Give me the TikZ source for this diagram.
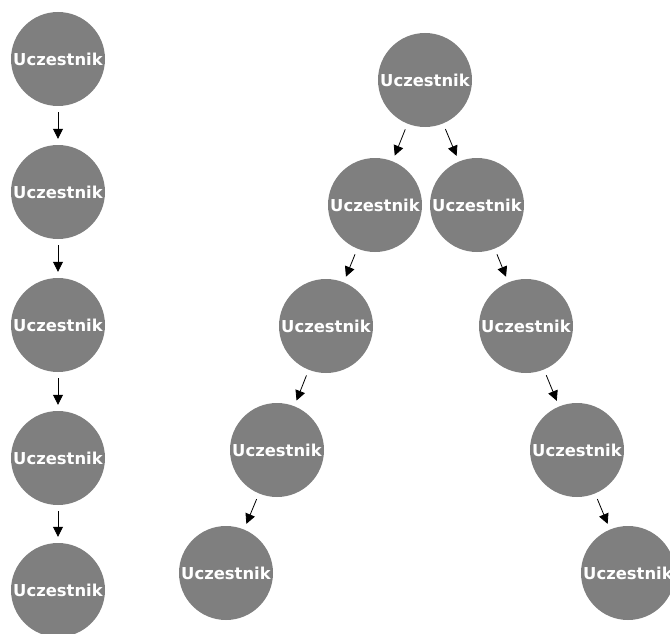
\documentclass[tikz,border=0pt]{standalone}
\usepackage{fontspec}
\setsansfont{DejaVu Sans}
\usetikzlibrary{arrows.meta}
\tikzset{
  member/.style={circle, fill=gray50, minimum size=94pt, inner sep=0pt,
    text=white, font=\sffamily\bfseries\fontsize{16.4pt}{18pt}\selectfont},
  link/.style={draw=black, line width=0.8pt,
    -{Triangle[length=10pt, width=10pt]}, shorten <=6pt, shorten >=6pt}
}
\definecolor{gray50}{HTML}{7F7F7F}
\begin{document}
\begin{tikzpicture}[x=1pt, y=-1pt]
  \useasboundingbox (0,0) rectangle (670,634);
  \clip (0,0) rectangle (670,634);
  % chain on the left
  \node[member] (c1) at (58,59)  {Uczestnik};
  \node[member] (c2) at (58,192) {Uczestnik};
  \node[member] (c3) at (58,325) {Uczestnik};
  \node[member] (c4) at (58,458) {Uczestnik};
  \node[member] (c5) at (58,590) {Uczestnik};
  \draw[link] (c1) -- (c2);
  \draw[link] (c2) -- (c3);
  \draw[link] (c3) -- (c4);
  \draw[link] (c4) -- (c5);
  % tree on the right
  \node[member] (t0) at (425,80)  {Uczestnik};
  \node[member] (l1) at (375,205) {Uczestnik};
  \node[member] (r1) at (477,205) {Uczestnik};
  \node[member] (l2) at (326,326) {Uczestnik};
  \node[member] (r2) at (526,326) {Uczestnik};
  \node[member] (l3) at (277,450) {Uczestnik};
  \node[member] (r3) at (577,450) {Uczestnik};
  \node[member] (l4) at (226,573) {Uczestnik};
  \node[member] (r4) at (628,573) {Uczestnik};
  \draw[link] (t0) -- (l1);
  \draw[link] (t0) -- (r1);
  \draw[link] (l1) -- (l2);
  \draw[link] (l2) -- (l3);
  \draw[link] (l3) -- (l4);
  \draw[link] (r1) -- (r2);
  \draw[link] (r2) -- (r3);
  \draw[link] (r3) -- (r4);
\end{tikzpicture}
\end{document}
